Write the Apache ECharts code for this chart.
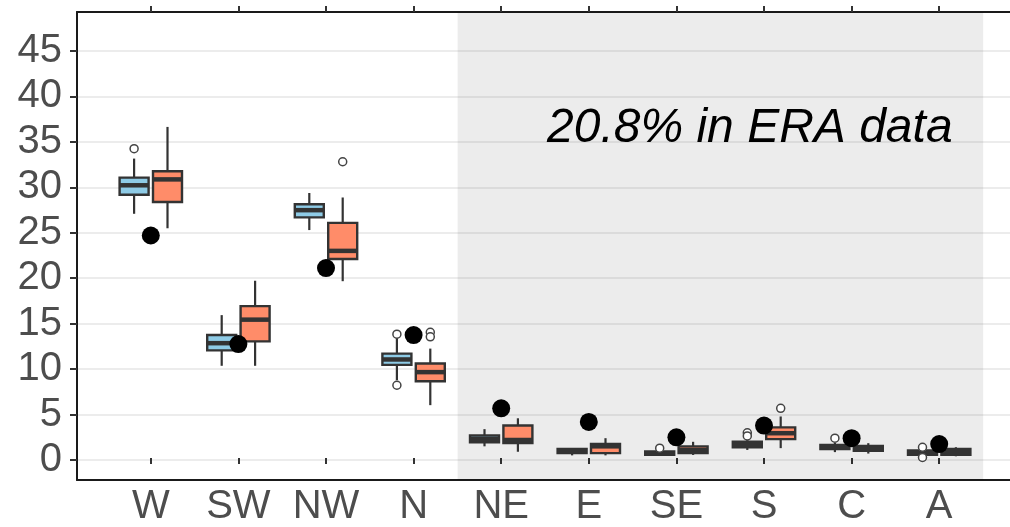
<!DOCTYPE html>
<html>
<head>
<meta charset="utf-8">
<script src="https://cdn.jsdelivr.net/npm/echarts@6/dist/echarts.min.js"></script>
<style>
  html, body { margin: 0; padding: 0; background: #fff; }
  #main { width: 1010px; height: 527px; }
</style>
</head>
<body>
<div id="main"></div>
<script>
// regions (circulation types)
var categories = ['W', 'SW', 'NW', 'N', 'NE', 'E', 'SE', 'S', 'C', 'A'];

// boxes: [min, Q1, median, Q3, max]
var blueBox = [
    [27.0, 29.1, 30.15, 31.0, 33.1],
    [10.2, 11.9, 12.7, 13.6, 15.8],
    [25.2, 26.6, 27.4, 28.05, 29.3],
    [8.6, 10.3, 10.9, 11.55, 13.3],
    [1.3, 1.75, 2.1, 2.5, 3.2],
    [0.3, 0.55, 0.75, 1.0, 1.1],
    [0.3, 0.37, 0.5, 0.73, 0.8],
    [0.9, 1.2, 1.45, 1.8, 2.3],
    [0.66, 1.0, 1.2, 1.45, 1.7],
    [0.2, 0.37, 0.6, 0.84, 1.0]
];
var orangeBox = [
    [25.4, 28.3, 30.8, 31.7, 36.6],
    [10.2, 12.9, 15.3, 16.8, 19.6],
    [19.55, 22.0, 22.9, 26.0, 28.8],
    [5.85, 8.5, 9.5, 10.45, 12.1],
    [0.7, 1.65, 2.0, 3.6, 4.4],
    [0.3, 0.55, 1.3, 1.55, 2.2],
    [0.35, 0.55, 0.9, 1.3, 1.8],
    [1.1, 2.1, 2.75, 3.4, 4.6],
    [0.5, 0.8, 1.05, 1.35, 1.65],
    [0.2, 0.37, 0.7, 1.0, 1.2]
];

// outliers
var blueOutliers = [['W', 34.2], ['N', 13.7], ['N', 8.05], ['SE', 1.1], ['S', 2.8], ['S', 2.45], ['C', 2.2], ['A', 1.2], ['A', 0.07]];
var orangeOutliers = [['NW', 32.75], ['N', 13.9], ['N', 13.4], ['S', 5.5]];

// ERA values (black dots)
var eraValues = [24.6, 12.6, 21.0, 13.6, 5.5, 4.0, 2.3, 3.6, 2.2, 1.55];

var yTicks = [0, 5, 10, 15, 20, 25, 30, 35, 40, 45];
var yLo = -2.2, yHi = 49.3;
var note = '20.8% in ERA data';

var edge = '#333333';
var blueFill = '#8ecbe6';
var orangeFill = '#ff8c69';
var boxW = 29;

function renderBox(offset, fill) {
    return function (params, api) {
        var c = api.value(0);
        var x = api.coord([c, 0])[0] + offset;
        var y = [1, 2, 3, 4, 5].map(function (k) { return api.coord([c, api.value(k)])[1]; });
        var hw = boxW / 2;
        return {
            type: 'group',
            children: [
                {type: 'line', shape: {x1: x, y1: y[4], x2: x, y2: y[3]}, style: {stroke: edge, lineWidth: 2.2}},
                {type: 'line', shape: {x1: x, y1: y[1], x2: x, y2: y[0]}, style: {stroke: edge, lineWidth: 2.2}},
                {type: 'rect', shape: {x: x - hw, y: y[3], width: boxW, height: y[1] - y[3]},
                    style: {fill: fill, stroke: edge, lineWidth: 2.4}},
                {type: 'line', shape: {x1: x - hw, y1: y[2], x2: x + hw, y2: y[2]}, style: {stroke: edge, lineWidth: 4.5}}
            ]
        };
    };
}

function withIndex(list) {
    return list.map(function (d, i) { return [i].concat(d); });
}

var myChart = echarts.init(document.getElementById('main'));

var option = {
    animation: false,
    grid: [
        // 0: frame (axis lines + shaded band)
        {left: 77, right: 0, top: 12, bottom: 47},
        // 1: y labels / grid lines
        {left: 77, right: 0, top: 51, bottom: 67},
        // 2: data
        {left: 107, right: 27, top: 12, bottom: 47}
    ],
    xAxis: [
        {gridIndex: 0, type: 'value', min: -0.345, max: 10.306, position: 'bottom',
            axisLine: {show: true, onZero: false, lineStyle: {color: '#1a1a1a', width: 2}},
            axisTick: {show: false}, axisLabel: {show: false}, splitLine: {show: false}},
        {gridIndex: 0, type: 'value', min: -0.345, max: 10.306, position: 'top',
            axisLine: {show: true, onZero: false, lineStyle: {color: '#1a1a1a', width: 2}},
            axisTick: {show: false}, axisLabel: {show: false}, splitLine: {show: false}},
        {gridIndex: 1, type: 'value', show: false, min: 0, max: 1},
        {gridIndex: 2, type: 'category', data: categories, position: 'bottom',
            axisLine: {show: false},
            axisTick: {show: true, alignWithLabel: true, length: 6, lineStyle: {color: edge, width: 2}},
            axisLabel: {interval: 0, margin: 9, fontSize: 40, color: '#4d4d4d', fontFamily: 'Liberation Sans'},
            splitLine: {show: false}},
        {gridIndex: 2, type: 'category', data: categories, position: 'top',
            axisLine: {show: false},
            axisTick: {show: true, alignWithLabel: true, length: 6, lineStyle: {color: edge, width: 2}},
            axisLabel: {show: false}, splitLine: {show: false}}
    ],
    yAxis: [
        {gridIndex: 0, type: 'value', min: yLo, max: yHi,
            axisLine: {show: true, onZero: false, lineStyle: {color: '#1a1a1a', width: 2}},
            axisTick: {show: false}, axisLabel: {show: false}, splitLine: {show: false}},
        {gridIndex: 1, type: 'value', min: yTicks[0], max: yTicks[yTicks.length - 1], interval: 5,
            axisLine: {show: false},
            axisTick: {show: true, length: 7, lineStyle: {color: edge, width: 2}},
            axisLabel: {margin: 15, fontSize: 40, color: '#4d4d4d', fontFamily: 'Liberation Sans'},
            splitLine: {show: true, lineStyle: {color: '#e6e6e6', width: 1.5}}},
        {gridIndex: 2, type: 'value', min: yLo, max: yHi, show: false}
    ],
    graphic: [{
        type: 'text', left: 547, top: 105, z: 100,
        style: {text: note, font: 'italic 48px "Liberation Sans"', fill: '#000'}
    }],
    series: [
        {
            type: 'line', xAxisIndex: 0, yAxisIndex: 0, data: [], silent: true,
            markArea: {
                silent: true,
                itemStyle: {color: 'rgba(0,0,0,0.075)'},
                data: [[{xAxis: 4}, {xAxis: 10}]]
            }
        },
        {
            type: 'custom', xAxisIndex: 3, yAxisIndex: 2,
            renderItem: renderBox(-16.7, blueFill),
            encode: {x: 0, y: [1, 2, 3, 4, 5]},
            data: withIndex(blueBox)
        },
        {
            type: 'custom', xAxisIndex: 3, yAxisIndex: 2,
            renderItem: renderBox(16.7, orangeFill),
            encode: {x: 0, y: [1, 2, 3, 4, 5]},
            data: withIndex(orangeBox)
        },
        {
            type: 'scatter', xAxisIndex: 3, yAxisIndex: 2, symbolSize: 8, symbolOffset: [-16.7, 0],
            itemStyle: {color: '#fff', borderColor: '#444', borderWidth: 1.5, opacity: 1},
            data: blueOutliers
        },
        {
            type: 'scatter', xAxisIndex: 3, yAxisIndex: 2, symbolSize: 8, symbolOffset: [16.7, 0],
            itemStyle: {color: '#fff', borderColor: '#444', borderWidth: 1.5, opacity: 1},
            data: orangeOutliers
        },
        {
            type: 'scatter', xAxisIndex: 3, yAxisIndex: 2, symbolSize: 18, z: 5,
            itemStyle: {color: '#000', opacity: 1},
            data: eraValues.map(function (v, i) { return [categories[i], v]; })
        }
    ]
};

myChart.setOption(option);
</script>
</body>
</html>
